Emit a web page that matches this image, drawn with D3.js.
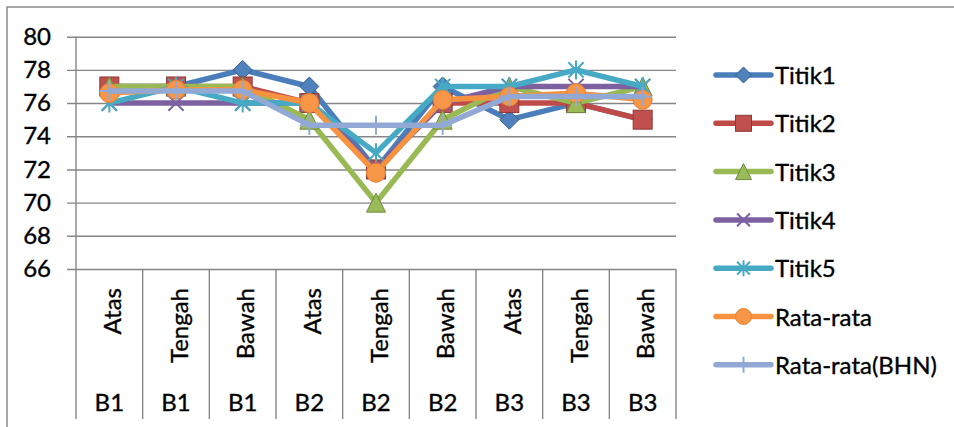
<!DOCTYPE html>
<html>
<head>
<meta charset="utf-8">
<script src="https://cdn.jsdelivr.net/npm/d3@7"></script>
<style>
  html, body { margin: 0; padding: 0; background: #fff; }
  svg { display: block; }
  text { font-family: Lato, "Open Sans", sans-serif; fill: #000; stroke: #000; stroke-width: 0.35px; }
</style>
</head>
<body>
<svg id="chart" width="954" height="427"></svg>
<script>
// Positions within each block and block names
const positions = ["Atas", "Tengah", "Bawah", "Atas", "Tengah", "Bawah", "Atas", "Tengah", "Bawah"];
const blocks = ["B1", "B1", "B1", "B2", "B2", "B2", "B3", "B3", "B3"];
const yTicks = [66, 68, 70, 72, 74, 76, 78, 80];

const titik1 = [77, 77, 78, 77, 72, 77, 75, 76, 75];
const titik2 = [77, 77, 77, 76, 72, 76, 76, 76, 75];
const titik3 = [77, 77, 77, 75, 70, 75, 77, 76, 77];
const titik4 = [76, 76, 76, 76, 72, 76, 77, 77, 77];
const titik5 = [76, 77, 76, 76, 73, 77, 77, 78, 77];
const rataRata = [76.6, 76.8, 76.8, 76.0, 71.8, 76.2, 76.4, 76.6, 76.2];
const rataBHN = [76.73, 76.73, 76.73, 74.67, 74.67, 74.67, 76.4, 76.4, 76.4];

const seriesNames = ["Titik1", "Titik2", "Titik3", "Titik4", "Titik5", "Rata-rata", "Rata-rata(BHN)"];
const seriesValues = [titik1, titik2, titik3, titik4, titik5, rataRata, rataBHN];

const styles = [
  { line: "#4A7EBB", fill: "#4F81BD", edge: "#385D8A", marker: "diamond" },
  { line: "#BE4B48", fill: "#C0504D", edge: "#8C3836", marker: "square" },
  { line: "#98B954", fill: "#9BBB59", edge: "#71893F", marker: "triangle" },
  { line: "#7D60A0", fill: "#7D60A0", edge: "#7D60A0", marker: "x" },
  { line: "#46AAC5", fill: "#46AAC5", edge: "#46AAC5", marker: "star" },
  { line: "#F69240", fill: "#F79646", edge: "#E0843A", marker: "circle" },
  { line: "#91A9D4", fill: "#91A9D4", edge: "#91A9D4", marker: "plus" }
];

const svg = d3.select("#chart");
const plot = { left: 76, right: 676, top: 36.7, bottom: 269 };
const axisBottom = 419;
const grid = "#868686";

// Chart frame
svg.append("path")
  .attr("d", "M7,427 V7 H954")
  .attr("fill", "none").attr("stroke", "#8a8a8a").attr("stroke-width", 1.5);

const x = d3.scaleBand().domain(d3.range(positions.length)).range([plot.left, plot.right]);
const y = d3.scaleLinear().domain([66, 80]).range([plot.bottom, plot.top]);
const cx = i => x(i) + x.bandwidth() / 2;

// Horizontal gridlines with tick labels
const yAxis = d3.axisLeft(y).tickValues(yTicks).tickSize(-(plot.right - plot.left)).tickPadding(25).tickSizeOuter(0);
const yg = svg.append("g").attr("transform", `translate(${plot.left},0)`).call(yAxis);
yg.select(".domain").remove();
yg.selectAll(".tick line").attr("stroke", grid).attr("stroke-width", 1.4).attr("x1", -9);
yg.selectAll(".tick text").attr("font-size", 24).attr("font-family", null).attr("fill", "#000");

// Vertical axis line through plot and category area
svg.append("line")
  .attr("x1", plot.left).attr("x2", plot.left)
  .attr("y1", plot.top).attr("y2", axisBottom)
  .attr("stroke", grid).attr("stroke-width", 1.4);

// Category separators
const bounds = d3.range(1, positions.length + 1).map(i => i === positions.length ? plot.right : x(i));
svg.append("g").selectAll("line").data(bounds).join("line")
  .attr("x1", d => d).attr("x2", d => d)
  .attr("y1", plot.bottom).attr("y2", axisBottom)
  .attr("stroke", grid).attr("stroke-width", 1.4);

// Position labels (rotated)
svg.append("g").selectAll("text").data(positions).join("text")
  .attr("transform", (d, i) => `translate(${cx(i) + 11.5},288) rotate(-90)`)
  .attr("text-anchor", "end")
  .attr("font-size", 24)
  .text(d => d);

// Block labels
svg.append("g").selectAll("text").data(blocks).join("text")
  .attr("x", (d, i) => cx(i))
  .attr("y", 411)
  .attr("text-anchor", "middle")
  .attr("font-size", 24)
  .text(d => d);

function drawMarker(g, type, st, size) {
  const h = size / 2;
  if (type === "diamond") {
    g.append("path").attr("d", `M0,${-h} L${h},0 L0,${h} L${-h},0 Z`)
      .attr("fill", st.fill).attr("stroke", st.edge).attr("stroke-width", 1);
  } else if (type === "square") {
    g.append("rect").attr("x", -h).attr("y", -h).attr("width", size).attr("height", size)
      .attr("fill", st.fill).attr("stroke", st.edge).attr("stroke-width", 1);
  } else if (type === "triangle") {
    g.append("path").attr("d", `M0,${-h} L${h},${h} L${-h},${h} Z`)
      .attr("fill", st.fill).attr("stroke", st.edge).attr("stroke-width", 1);
  } else if (type === "circle") {
    g.append("circle").attr("r", h).attr("fill", st.fill).attr("stroke", st.edge).attr("stroke-width", 1);
  } else if (type === "x") {
    const k = h * 0.8;
    g.append("path").attr("d", `M${-k},${-k} L${k},${k} M${k},${-k} L${-k},${k}`)
      .attr("stroke", st.edge).attr("stroke-width", 2).attr("fill", "none");
  } else if (type === "star") {
    const k = h * 0.8;
    g.append("path").attr("d", `M${-k},${-k} L${k},${k} M${k},${-k} L${-k},${k} M0,${-h} L0,${h}`)
      .attr("stroke", st.edge).attr("stroke-width", 2).attr("fill", "none");
  } else if (type === "plus") {
    g.append("path").attr("d", `M0,${-h} L0,${h} M${-h},0 L${h},0`)
      .attr("stroke", st.edge).attr("stroke-width", 2).attr("fill", "none");
  }
}

const line = d3.line().x((d, i) => cx(i)).y(d => y(d));

// Series: line then markers, in order
seriesValues.forEach((vals, s) => {
  const st = styles[s];
  const g = svg.append("g");
  g.append("path").datum(vals).attr("d", line)
    .attr("fill", "none").attr("stroke", st.line).attr("stroke-width", 5.5)
    .attr("stroke-linejoin", "round").attr("stroke-linecap", "round");
  vals.forEach((v, i) => {
    const m = g.append("g").attr("transform", `translate(${cx(i)},${y(v)})`);
    drawMarker(m, st.marker, st, 19);
  });
});

// Legend
const legend = svg.append("g");
seriesNames.forEach((name, s) => {
  const st = styles[s];
  const cy = 75 + s * 48.3;
  const g = legend.append("g").attr("transform", `translate(0,${cy})`);
  g.append("line").attr("x1", 716).attr("x2", 771).attr("y1", 0).attr("y2", 0)
    .attr("stroke", st.line).attr("stroke-width", 5.5).attr("stroke-linecap", "round");
  const m = g.append("g").attr("transform", "translate(743.5,0)");
  drawMarker(m, st.marker, st, 16);
  g.append("text").attr("x", 775).attr("y", 9).attr("font-size", 24).text(name);
});
</script>
</body>
</html>
